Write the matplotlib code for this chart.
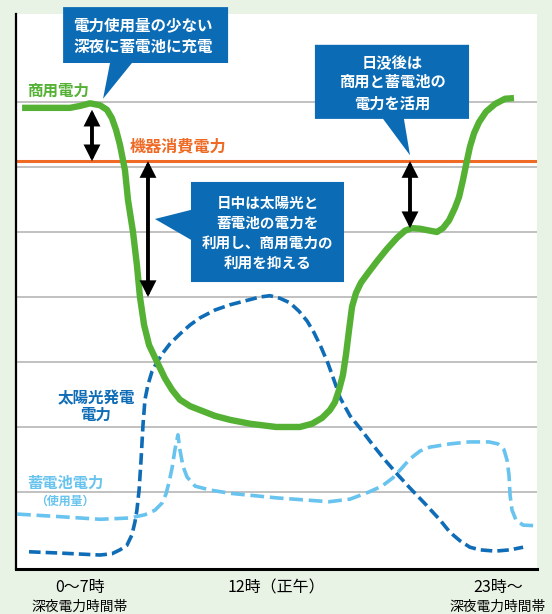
import matplotlib
matplotlib.use('Agg')
import matplotlib.pyplot as plt
from matplotlib.patches import Polygon, FancyArrowPatch

plt.rcParams['font.family'] = ['Noto Sans CJK JP', 'DejaVu Sans']

# 横軸: 時刻 (0-24h), 縦軸: 電力 (目盛線 1 本 = 1)
GREEN_X = [0.28, 1.34, 2.49, 2.95, 3.41, 3.87, 4.19, 4.42, 4.61, 4.79, 5.02, 5.16,
           5.39, 5.57, 5.71, 5.90, 6.13, 6.50, 6.86, 7.19, 7.55, 8.02, 8.48, 9.17,
           9.86, 10.78, 11.98, 13.08, 13.64, 14.10, 14.46, 14.69, 14.88, 15.06, 15.20,
           15.34, 15.48, 15.66, 15.89, 16.22, 16.63, 17.09, 17.55, 17.92, 18.24, 18.61,
           19.07, 19.39, 19.67, 19.95, 20.22, 20.41, 20.59, 20.73, 20.91, 21.10, 21.33,
           21.65, 22.07, 22.53, 22.94]
GREEN_Y = [6.91, 6.91, 6.91, 6.94, 6.98, 6.95, 6.88, 6.75, 6.57, 6.34, 5.95, 5.49,
           5.00, 4.49, 4.00, 3.57, 3.26, 3.00, 2.75, 2.57, 2.42, 2.32, 2.26, 2.17,
           2.11, 2.05, 2.00, 2.00, 2.05, 2.14, 2.26, 2.38, 2.57, 2.80, 3.11,
           3.49, 3.85, 4.06, 4.22, 4.37, 4.55, 4.74, 4.91, 5.02, 5.06, 5.05,
           5.02, 5.00, 5.06, 5.18, 5.37, 5.54, 5.80, 6.03, 6.31, 6.52, 6.69,
           6.85, 6.97, 7.05, 7.06]

SOLAR_X = [0.60, 2.03, 3.87, 4.42, 4.79, 5.11, 5.34, 5.48, 5.57, 5.67, 5.76, 5.85,
           5.94, 6.08, 6.26, 6.50, 6.77, 7.09, 7.55, 8.02, 8.48, 9.17, 9.86, 10.55,
           11.24, 11.70, 12.16, 12.62, 13.04, 13.41, 13.73, 14.05, 14.37, 14.65, 14.93,
           15.39, 15.85, 16.40, 17.00, 17.60, 18.15, 18.84, 19.53, 19.99, 20.45, 20.91,
           21.37, 22.07, 22.76, 23.36]
SOLAR_Y = [0.08, 0.06, 0.03, 0.05, 0.11, 0.18, 0.34, 0.54, 0.72, 1.03, 1.49, 2.03,
           2.42, 2.65, 2.85, 3.00, 3.14, 3.28, 3.43, 3.57, 3.68, 3.80, 3.88, 3.94,
           4.00, 4.02, 3.98, 3.91, 3.78, 3.63, 3.45, 3.23, 2.98, 2.72, 2.45,
           2.17, 1.98, 1.74, 1.49, 1.26, 1.06, 0.82, 0.57, 0.38, 0.25, 0.15,
           0.11, 0.09, 0.11, 0.15]

BATT_X = [0.05, 2.03, 3.87, 5.25, 5.94, 6.40, 6.73, 6.91, 7.05, 7.19, 7.32, 7.46,
          7.55, 7.69, 7.88, 8.25, 8.94, 9.86, 11.98, 14.42, 15.39, 16.26, 16.86, 17.37,
          17.78, 18.15, 18.61, 19.07, 19.99, 20.87, 21.79, 22.20, 22.48, 22.62, 22.71,
          22.76, 22.85, 23.03, 23.36, 24.0]
BATT_Y = [0.66, 0.62, 0.58, 0.60, 0.65, 0.72, 0.83, 0.97, 1.15, 1.37, 1.65, 1.88,
          1.65, 1.40, 1.23, 1.09, 1.03, 0.98, 0.91, 0.85, 0.89, 1.00, 1.09, 1.22,
          1.37, 1.51, 1.63, 1.69, 1.74, 1.77, 1.77, 1.74, 1.65, 1.49, 1.26,
          0.95, 0.72, 0.57, 0.49, 0.48]

LOAD = 6.09          # 機器消費電力
GRID_Y = [1, 2, 3, 4, 5, 6, 7]

XTICK_POS = [2.95, 12.0, 22.2]
XTICK_MAIN = ['0～7時', '12時（正午）', '23時～']
XTICK_SUB = ['深夜電力時間帯', '', '深夜電力時間帯']

C_GREEN = '#55b134'
C_ORANGE = '#ee6a25'
C_DBLUE = '#0f6cb6'
C_LBLUE = '#68c3ee'
C_BOX = '#0b6cb5'


def callout(ax, verts):
    ax.add_patch(Polygon(verts, closed=True, fc=C_BOX, ec='none', clip_on=False, zorder=6))


def gap_arrow(ax, x, y0, y1):
    ax.add_patch(FancyArrowPatch((x, y0), (x, y1), arrowstyle='<|-|>,head_length=0.75,head_width=0.38',
                                 mutation_scale=10, lw=2.8, color='black', shrinkA=0, shrinkB=0,
                                 joinstyle='miter', zorder=5))


fig = plt.figure(figsize=(5.52, 6.14), dpi=100, facecolor='#e9f3e5')
ax = fig.add_axes([16 / 552, 45 / 614, 521 / 552, 555 / 614])
ax.set_facecolor('white')
ax.set_xlim(0, 24)
ax.set_ylim(-0.185, 8.354)

for gy in GRID_Y:
    ax.axhline(gy, color='#bcbcbc', lw=1.3, zorder=1)
ax.axhline(LOAD, color=C_ORANGE, lw=2.2, zorder=2)

ax.plot(BATT_X, BATT_Y, color=C_LBLUE, lw=2.6, dashes=(3.8, 1.6), zorder=3)
ax.plot(SOLAR_X, SOLAR_Y, color=C_DBLUE, lw=2.6, dashes=(3.2, 1.4), zorder=3.5)
ax.plot(GREEN_X, GREEN_Y, color=C_GREEN, lw=4.6, solid_joinstyle='round', solid_capstyle='butt', zorder=4)

gap_arrow(ax, 3.5, 6.88, LOAD)
gap_arrow(ax, 6.08, LOAD, 4.0)
gap_arrow(ax, 18.15, LOAD, 5.06)

# 吹き出し
callout(ax, [(2.17, 8.46), (9.77, 8.46), (9.77, 7.6), (5.34, 7.6), (4.01, 7.05), (4.33, 7.6), (2.17, 7.6)])
ax.text(2.63, 8.18, '電力使用量の少ない', color='white', fontsize=11.2, fontweight='bold', va='center', zorder=7)
ax.text(2.63, 7.85, '深夜に蓄電池に充電', color='white', fontsize=11.2, fontweight='bold', va='center', zorder=7)

callout(ax, [(13.77, 7.88), (20.87, 7.88), (20.87, 6.74), (17.87, 6.74), (18.15, 6.18), (16.91, 6.74), (13.77, 6.74)])
for t, ty in zip(['日没後は', '商用と蓄電池の', '電力を活用'], [7.62, 7.31, 6.98]):
    ax.text(17.32, ty, t, color='white', fontsize=11, fontweight='bold', ha='center', va='center', zorder=7)

callout(ax, [(8.06, 5.77), (15.11, 5.77), (15.11, 4.23), (8.06, 4.23), (8.06, 4.88), (6.40, 5.2), (8.06, 5.34)])
for t, ty in zip(['日中は太陽光と', '蓄電池の電力を', '利用し、商用電力の', '利用を抑える'],
                 [5.446, 5.138, 4.831, 4.523]):
    ax.text(11.59, ty, t, color='white', fontsize=10.5, fontweight='bold', ha='center', va='center', zorder=7)

# 系列ラベル
ax.text(0.51, 7.18, '商用電力', color=C_GREEN, fontsize=11.2, fontweight='bold', va='center')
ax.text(5.25, 6.31, '機器消費電力', color=C_ORANGE, fontsize=11.6, fontweight='bold', va='center')
ax.text(3.69, 2.446, '太陽光発電', color=C_DBLUE, fontsize=11.2, fontweight='bold', ha='center', va='center')
ax.text(3.69, 2.185, '電力', color=C_DBLUE, fontsize=11.2, fontweight='bold', ha='center', va='center')
ax.text(2.26, 1.14, '蓄電池電力', color=C_LBLUE, fontsize=11, fontweight='bold', ha='center', va='center')
ax.text(2.26, 0.86, '（使用量）', color=C_LBLUE, fontsize=8.6, fontweight='bold', ha='center', va='center')

# 横軸ラベル
for xp, m, s in zip(XTICK_POS, XTICK_MAIN, XTICK_SUB):
    ax.text(xp, -0.477, m, fontsize=11.5, ha='center', va='center', clip_on=False)
    if s:
        ax.text(xp, -0.77, s, fontsize=9.9, ha='center', va='center', clip_on=False)

ax.set_xticks([])
ax.set_yticks([])
for side in ['top', 'right']:
    ax.spines[side].set_visible(False)
ax.spines['left'].set_linewidth(1.6)
ax.spines['bottom'].set_linewidth(2.2)

fig.savefig('out.png', dpi=100, facecolor=fig.get_facecolor())
